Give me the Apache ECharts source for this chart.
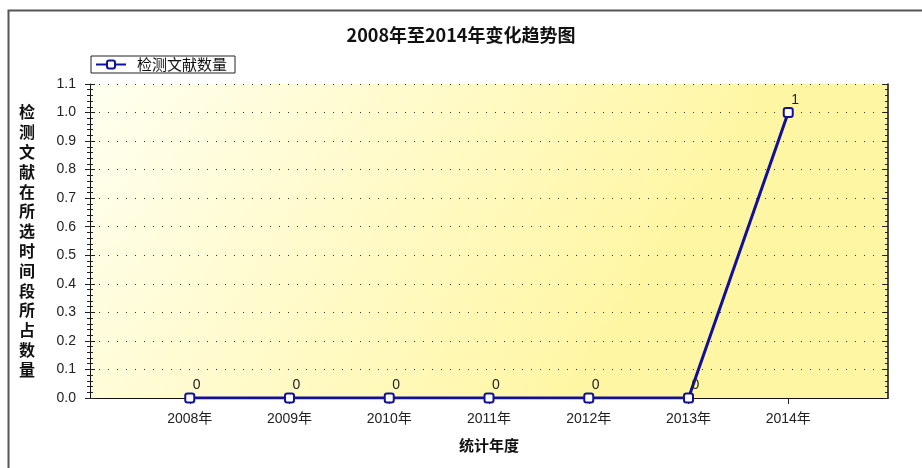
<!DOCTYPE html>
<html>
<head>
<meta charset="utf-8">
<script src="https://cdn.jsdelivr.net/npm/echarts@6/dist/echarts.min.js"></script>
<style>
  html, body { margin: 0; padding: 0; background: #fff; }
  #chart { width: 922px; height: 468px; }
</style>
</head>
<body>
<div id="chart"></div>
<script>
// 数据
const years = [2008, 2009, 2010, 2011, 2012, 2013, 2014];
const counts = [0, 0, 0, 0, 0, 0, 1];
const seriesName = '检测文献数量';
const titleText = '2008年至2014年变化趋势图';
const xName = '统计年度';
const yName = '检测文献在所选时间段所占数量';

const latin = '"Liberation Sans", "Noto Sans CJK SC", sans-serif';
const cjk = '"Noto Sans CJK SC", sans-serif';

const chart = echarts.init(document.getElementById('chart'));

const tickColor = '#222';

chart.setOption({
  animation: false,
  backgroundColor: '#fff',
  title: {
    text: titleText,
    left: 'center',
    top: 21,
    textStyle: { fontFamily: cjk, fontSize: 18, fontWeight: 'bold', color: '#111' }
  },
  legend: {
    data: [seriesName],
    left: 91,
    top: 56,
    padding: [1, 8, 1, 4],
    borderColor: '#222',
    borderWidth: 1,
    borderRadius: 0,
    itemWidth: 30,
    itemHeight: 10,
    itemGap: 10,
    textStyle: { fontFamily: cjk, fontSize: 15, color: '#111', padding: [0, 0, 0, 6] }
  },
  graphic: [{
    type: 'rect',
    left: 6,
    top: 8,
    shape: { width: 960, height: 500 },
    style: { fill: null, stroke: '#555', lineWidth: 2 },
    silent: true
  }],
  grid: {
    left: 90,
    right: 34,
    top: 84,
    bottom: 70,
    show: true,
    borderWidth: 0,
    backgroundColor: new echarts.graphic.LinearGradient(0, 0, 0.6, 1, [
      { offset: 0, color: '#fffff0' },
      { offset: 1, color: '#fff6a4' }
    ])
  },
  xAxis: [{
    type: 'value',
    position: 'bottom',
    min: 2007,
    max: 2015,
    interval: 1,
    name: xName,
    nameLocation: 'middle',
    nameGap: 40,
    nameTextStyle: { fontFamily: cjk, fontSize: 15, fontWeight: 'bold', color: '#111' },
    axisLine: { show: true, lineStyle: { color: '#111', width: 1 } },
    axisTick: { show: true, length: 6, customValues: years, lineStyle: { color: tickColor } },
    axisLabel: {
      customValues: years,
      margin: 14,
      formatter: v => v + '年',
      fontFamily: latin, fontSize: 14, color: '#222'
    },
    splitLine: { show: false }
  }, {
    type: 'value',
    position: 'top',
    min: 2007,
    max: 2015,
    interval: 1,
    axisLine: { show: true, lineStyle: { color: '#111', width: 1 } },
    axisTick: { show: true, inside: true, length: 5, customValues: years, lineStyle: { color: tickColor } },
    axisLabel: { show: false },
    splitLine: { show: false }
  }],
  yAxis: [{
    type: 'value',
    position: 'left',
    min: 0,
    max: 1.1,
    interval: 0.1,
    name: yName.split('').join('\n'),
    nameLocation: 'middle',
    nameRotate: 0,
    nameGap: 55,
    nameTextStyle: { fontFamily: cjk, fontSize: 16, fontWeight: 'bold', color: '#111', lineHeight: 19.8 },
    axisLine: { show: true, lineStyle: { color: '#111', width: 1 } },
    axisTick: { show: true, length: 5, lineStyle: { color: tickColor } },
    minorTick: { show: true, splitNumber: 5, length: 3, lineStyle: { color: tickColor } },
    axisLabel: {
      margin: 14,
      formatter: v => v.toFixed(1),
      fontFamily: latin, fontSize: 14, color: '#222'
    },
    splitLine: { show: true, lineStyle: { color: '#333', type: [1, 8], width: 1.2 } }
  }, {
    type: 'value',
    position: 'left',
    min: 0,
    max: 1.1,
    interval: 0.1,
    axisLine: { show: false },
    axisTick: { show: true, inside: true, length: 5, lineStyle: { color: tickColor } },
    minorTick: { show: true, splitNumber: 5, length: 3, lineStyle: { color: tickColor } },
    axisLabel: { show: false },
    splitLine: { show: false }
  }, {
    type: 'value',
    position: 'right',
    min: 0,
    max: 1.1,
    interval: 0.1,
    axisLine: { show: true, lineStyle: { color: '#111', width: 1.5 } },
    axisTick: { show: true, inside: true, length: 5, lineStyle: { color: tickColor } },
    minorTick: { show: true, splitNumber: 5, length: 3, lineStyle: { color: tickColor } },
    axisLabel: { show: false },
    splitLine: { show: false }
  }],
  series: [{
    name: seriesName,
    type: 'line',
    data: years.map((y, i) => [y, counts[i]]),
    symbol: 'roundRect',
    symbolSize: 9,
    lineStyle: { color: '#10109a', width: 3 },
    itemStyle: { color: '#fff', borderColor: '#10109a', borderWidth: 2 },
    label: {
      show: true,
      position: 'top',
      offset: [7, 5],
      fontFamily: latin,
      fontSize: 14,
      color: '#222'
    },
    z: 5
  }]
});
</script>
</body>
</html>
